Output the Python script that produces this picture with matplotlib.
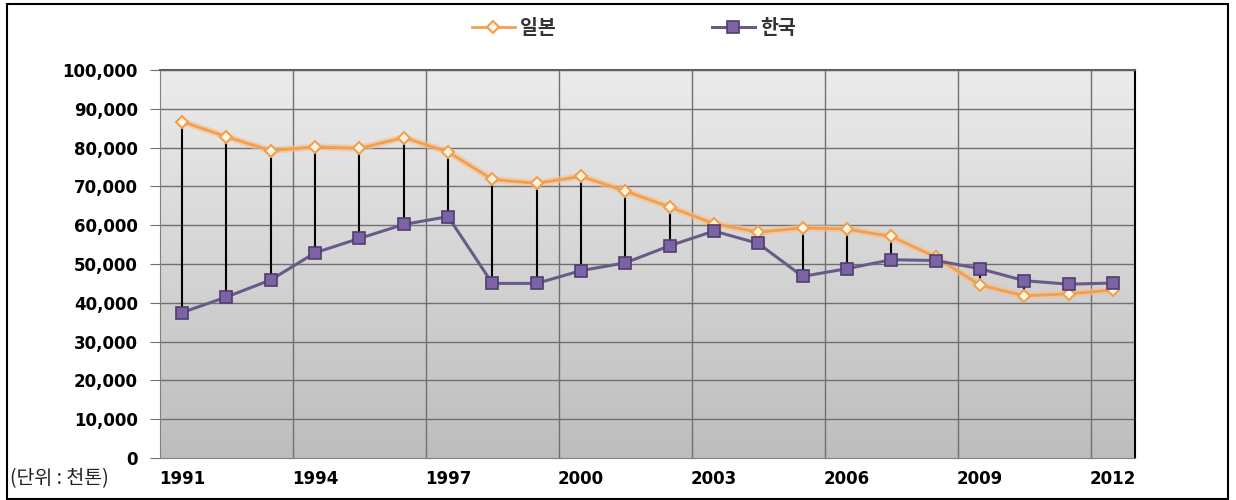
import matplotlib.pyplot as plt
import matplotlib.patches as patches
import numpy as np

plt.rcParams['font.family'] = ['Noto Sans CJK KR', 'DejaVu Sans']

years = list(range(1991, 2013))
japan = [86700, 82800, 79200, 80200, 79800, 82600, 78900, 71800, 70800, 72600,
         68800, 64700, 60400, 58200, 59300, 59000, 57100, 51800, 44600, 41800,
         42300, 43300]
korea = [37500, 41500, 45900, 52900, 56600, 60200, 62200, 45000, 45000, 48300,
         50300, 54700, 58500, 55300, 46800, 48800, 51100, 50900, 48800, 45700,
         44800, 45100]
year_labels = ["1991", "1994", "1997", "2000", "2003", "2006", "2009", "2012"]

fig = plt.figure(figsize=(12.36, 5.0), dpi=100)
ax = fig.add_axes([160 / 1236, 1 - 458 / 500, (1135 - 160) / 1236, (458 - 70) / 500])

x = np.arange(len(years))
ax.set_xlim(-0.5, len(years) - 0.5)
ax.set_ylim(0, 100000)

# gradient background
grad = np.linspace(0, 1, 256).reshape(-1, 1)
ax.imshow(grad, extent=(-0.5, len(years) - 0.5, 0, 100000), aspect='auto',
          cmap=plt.matplotlib.colors.LinearSegmentedColormap.from_list('g', ['#bdbdbd', '#ececec']),
          origin='lower', zorder=0)

# grid
for yv in range(10000, 100001, 10000):
    ax.axhline(yv, color='#707070', lw=1.0, zorder=1)
for xv in np.arange(2.5, len(years) - 1, 3):
    ax.axvline(xv, color='#707070', lw=1.0, zorder=1)

# high-low lines
for i in range(len(years)):
    ax.plot([x[i], x[i]], [japan[i], korea[i]], color='black', lw=1.5, zorder=2)

ax.plot(x, japan, color='#f7c08a', lw=5, alpha=0.6, zorder=3)
ax.plot(x, japan, color='#f0a050', lw=2, marker='D', markersize=6,
        markerfacecolor='#fff4e0', markeredgecolor='#f0a050', markeredgewidth=1.5,
        label='일본', zorder=4)
ax.plot(x, korea, color='#6a5a88', lw=2.2, marker='s', markersize=9,
        markerfacecolor='#7d62a6', markeredgecolor='#4e3f6e', markeredgewidth=1.2,
        label='한국', zorder=4)

ax.set_xticks(x[::3])
ax.set_xticklabels(year_labels, fontsize=12, fontweight='bold', family='DejaVu Sans')
ax.tick_params(axis='x', length=0, pad=9)
ax.set_yticks(range(0, 100001, 10000))
ax.set_yticklabels([f"{v:,}" for v in range(0, 100001, 10000)], fontsize=12,
                   fontweight='bold', family='DejaVu Sans')
ax.tick_params(axis='y', length=7, color='#707070', pad=9)

for s in ['left', 'bottom']:
    ax.spines[s].set_color('#808080')
ax.spines['top'].set_color('#606060')
ax.spines['top'].set_linewidth(1.5)
ax.spines['right'].set_color('black')
ax.spines['right'].set_linewidth(1.5)

fig.text(10 / 1236, 1 - 479 / 500, "(단위 : 천톤)", fontsize=14, va='center', ha='left',
         color='#222222')

leg = fig.legend(loc='center', bbox_to_anchor=(634 / 1236, 1 - 28 / 500), ncol=2,
                 frameon=False, fontsize=14, columnspacing=8, handlelength=2.2,
                 handletextpad=0.3)
for t in leg.get_texts():
    t.set_fontweight('bold')
    t.set_color('#333333')

fig.add_artist(patches.Rectangle((7 / 1236, 0.002), (1228 - 7) / 1236, 0.99,
                                 transform=fig.transFigure, fill=False,
                                 edgecolor='black', lw=1.5))

fig.savefig('out.png', dpi=100)
